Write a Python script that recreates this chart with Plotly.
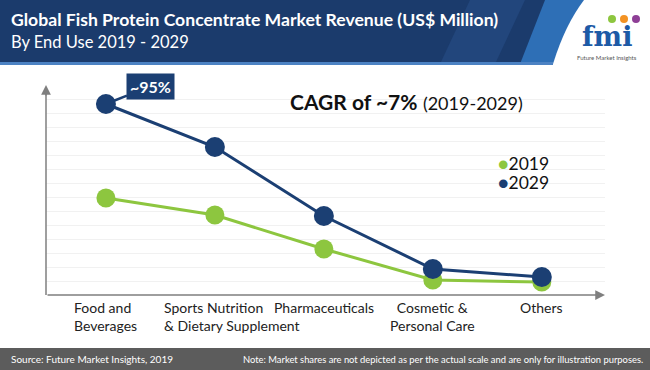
import plotly.graph_objects as go

categories = ["Food and<br>Beverages", "Sports Nutrition<br>& Dietary Supplement",
              "Pharmaceuticals", "Cosmetic &<br>Personal Care", "Others"]
values_2019 = [97, 80, 46, 15, 13]
values_2029 = [191, 148, 79, 26, 18]
series_names = ["2019", "2029"]
label_shift = [0, 17, 0, 0, 0]
label_align = ["left", "left", "center", "center", "center"]

GREEN = "#8dc63f"
NAVY = "#1b3f73"
FONT = "Lato"

W, H = 650, 370
L, R, T, B = 46, 45, 86, 75
PW, PH = W - L - R, H - T - B


def px(x):
    return (x - L) / PW


def py(y):
    return (H - B - y) / PH


xs = list(range(len(categories)))
fig = go.Figure()

fig.add_trace(go.Scatter(x=xs, y=values_2019, mode="lines+markers", name=series_names[0],
                         showlegend=False, line=dict(color=GREEN, width=3),
                         marker=dict(size=19, color=GREEN)))
fig.add_trace(go.Scatter(x=xs, y=values_2029, mode="lines+markers", name=series_names[1],
                         showlegend=False, line=dict(color=NAVY, width=3),
                         marker=dict(size=20, color=NAVY)))

shapes = []
# header
shapes.append(dict(type="rect", xref="paper", yref="paper", x0=px(0), x1=px(650),
                   y0=py(64), y1=py(0), fillcolor="#1b3b6c", line=dict(width=0), layer="below"))
shapes.append(dict(type="path", xref="paper", yref="paper",
                   path=f"M {px(470)} {py(0)} L {px(525)} {py(0)} L {px(495)} {py(64)} L {px(440)} {py(64)} Z",
                   fillcolor="#22467c", line=dict(width=0), layer="below"))
shapes.append(dict(type="path", xref="paper", yref="paper",
                   path=f"M {px(545)} {py(0)} L {px(590)} {py(0)} L {px(556)} {py(64)} L {px(520)} {py(64)} Z",
                   fillcolor="#2e6fb6", line=dict(width=0), layer="below"))
shapes.append(dict(type="path", xref="paper", yref="paper",
                   path=f"M {px(584)} {py(0)} L {px(650)} {py(0)} L {px(650)} {py(64)} L {px(553)} {py(64)} Q {px(565)} {py(25)} {px(584)} {py(0)} Z",
                   fillcolor="white", line=dict(width=0), layer="below"))
shapes.append(dict(type="rect", xref="paper", yref="paper", x0=px(0), x1=px(553),
                   y0=py(65), y1=py(62), fillcolor="#4c82c3", line=dict(width=0), layer="below"))
# footer
shapes.append(dict(type="rect", xref="paper", yref="paper", x0=px(0), x1=px(650),
                   y0=py(370), y1=py(348), fillcolor="#5c5c5c", line=dict(width=0), layer="below"))
# logo dots
for cx, col in [(612, "#8dc63f"), (624, "#f39223"), (636, "#8e3f96")]:
    shapes.append(dict(type="circle", xref="paper", yref="paper", x0=px(cx - 4), x1=px(cx + 4),
                       y0=py(23), y1=py(15), fillcolor=col, line=dict(width=0)))
# y axis line
shapes.append(dict(type="line", xref="paper", yref="paper", x0=px(46), x1=px(46),
                   y0=py(295), y1=py(92), line=dict(color="#7f7f7f", width=1.5)))

annotations = []
# axes arrows
annotations.append(dict(xref="paper", yref="paper", x=px(605), y=py(295), ax=-559, ay=0,
                        text="", showarrow=True, arrowhead=2, arrowsize=1.3, arrowwidth=1.5,
                        arrowcolor="#7f7f7f"))
annotations.append(dict(xref="paper", yref="paper", x=px(46), y=py(85), ax=0, ay=12,
                        text="", showarrow=True, arrowhead=2, arrowsize=1.3, arrowwidth=1.5,
                        arrowcolor="#7f7f7f"))
# title
annotations.append(dict(xref="paper", yref="paper", x=px(9), y=py(19), xanchor="left", yanchor="middle",
                        text="<b>Global Fish Protein Concentrate Market Revenue (US$ Million)</b>",
                        showarrow=False, font=dict(family=FONT, size=17.6, color="white")))
annotations.append(dict(xref="paper", yref="paper", x=px(9), y=py(42), xanchor="left", yanchor="middle",
                        text="By End Use 2019 - 2029",
                        showarrow=False, font=dict(family=FONT, size=16.5, color="white")))
# logo
annotations.append(dict(xref="paper", yref="paper", x=px(607), y=py(36), xanchor="center", yanchor="middle",
                        text="<b>fmi</b>", showarrow=False,
                        font=dict(family="DejaVu Serif", size=27, color="#1d5aa6")))
annotations.append(dict(xref="paper", yref="paper", x=px(607), y=py(58), xanchor="center", yanchor="middle",
                        text="Future Market Insights", showarrow=False,
                        font=dict(family=FONT, size=6, color="#555555")))
# category labels
for i, (lab, sh, al) in enumerate(zip(categories, label_shift, label_align)):
    annotations.append(dict(x=xs[i], y=0, xref="x", yref="paper", yshift=-2, xshift=sh,
                            xanchor="center", yanchor="top", align=al, text=lab,
                            showarrow=False, font=dict(family=FONT, size=14, color="#222222")))
# CAGR
annotations.append(dict(xref="paper", yref="paper", x=px(288), y=py(101), xanchor="left", yanchor="middle",
                        text="<b>CAGR of ~7%</b> <span style='font-size:18px'>(2019-2029)</span>",
                        showarrow=False, font=dict(family=FONT, size=21, color="#111111")))
# legend
for name, col, yy in [(series_names[0], GREEN, 163), (series_names[1], NAVY, 182)]:
    annotations.append(dict(xref="paper", yref="paper", x=px(496), y=py(yy), xanchor="left",
                            yanchor="middle", showarrow=False,
                            text=f"<span style='color:{col}'>●</span>{name}",
                            font=dict(family=FONT, size=17.5, color="#111111")))
# callout
annotations.append(dict(x=xs[0], y=values_2029[0], xref="x", yref="y", ax=45, ay=-18,
                        text="<b>~95%</b>", showarrow=True, arrowhead=0, arrowwidth=2.5,
                        arrowcolor=NAVY, bgcolor=NAVY, borderpad=3, standoff=8,
                        font=dict(family=FONT, size=16, color="white")))
# footer
annotations.append(dict(xref="paper", yref="paper", x=px(9), y=py(359), xanchor="left", yanchor="middle",
                        text="Source: Future Market Insights, 2019", showarrow=False,
                        font=dict(family=FONT, size=10, color="white")))
annotations.append(dict(xref="paper", yref="paper", x=px(645), y=py(359), xanchor="right", yanchor="middle",
                        text="Note: Market shares are not depicted as per the actual scale and are only for illustration purposes.",
                        showarrow=False, font=dict(family=FONT, size=9.4, color="white")))

fig.update_layout(
    width=W, height=H,
    margin=dict(l=L, r=R, t=T, b=B),
    paper_bgcolor="white", plot_bgcolor="white",
    shapes=shapes, annotations=annotations,
    xaxis=dict(range=[-0.55, 4.58], showgrid=False, zeroline=False, showticklabels=False,
               showline=False, fixedrange=True),
    yaxis=dict(range=[0, 209], dtick=14, showgrid=True, gridcolor="#f1f1f1", gridwidth=1,
               zeroline=False, showticklabels=False, showline=False, fixedrange=True),
    showlegend=False,
)

fig.write_html("out.html", config={"displayModeBar": False},
               post_script="document.body.style.margin='0px';")
